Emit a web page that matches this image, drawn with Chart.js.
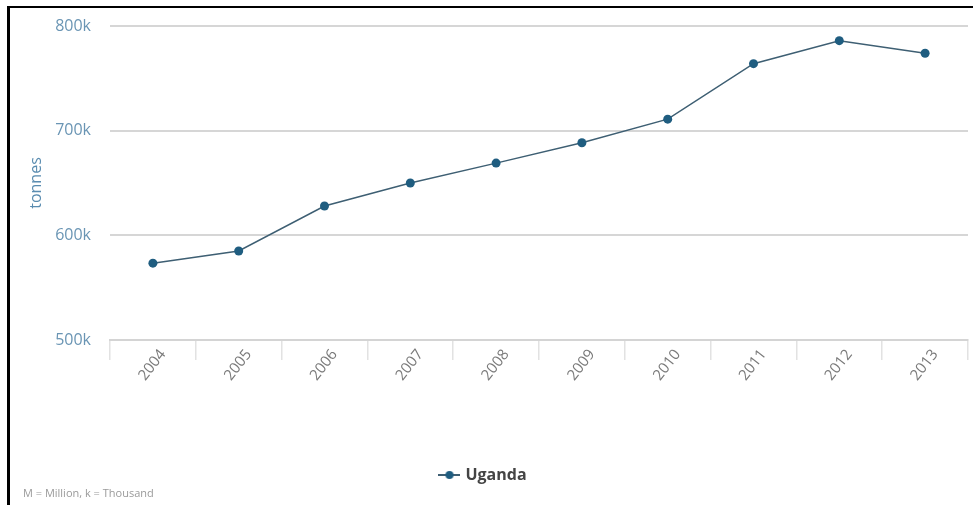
<!DOCTYPE html>
<html>
<head>
<meta charset="utf-8">
<script src="https://cdn.jsdelivr.net/npm/chart.js@4"></script>
<style>
  html, body { margin: 0; padding: 0; background: #fff; }
  #wrap { position: relative; width: 973px; height: 505px; overflow: hidden; }
  #frame { position: absolute; left: 7px; top: 6px; right: -10px; bottom: -10px;
           border-top: 2px solid #000; border-left: 3px solid #000; pointer-events: none; }
  #note { position: absolute; left: 23px; top: 485px; font: 11px "Open Sans", sans-serif; color: #9a9a9a; }
</style>
</head>
<body>
<div id="wrap">
  <canvas id="chart" width="973" height="505"></canvas>
  <div id="frame"></div>
  <div id="note">M = Million, k = Thousand</div>
</div>
<script>
const years = ['2004', '2005', '2006', '2007', '2008', '2009', '2010', '2011', '2012', '2013'];
const uganda = [573400, 585000, 628000, 650000, 669000, 688500, 711000, 764000, 786000, 774000];
const yTicks = [500000, 600000, 700000, 800000];

const lineColor = '#3e5f73';
const dotColor = '#1f5d80';

// legend marker: short line with a dot
function legendMarker() {
  const c = document.createElement('canvas');
  c.width = 22;
  c.height = 10;
  const g = c.getContext('2d');
  g.strokeStyle = lineColor;
  g.lineWidth = 2;
  g.beginPath();
  g.moveTo(0, 5);
  g.lineTo(22, 5);
  g.stroke();
  g.fillStyle = dotColor;
  g.beginPath();
  g.arc(11, 5, 4, 0, Math.PI * 2);
  g.fill();
  return c;
}

const ctx = document.getElementById('chart');
new Chart(ctx, {
  type: 'line',
  data: {
    labels: years,
    datasets: [{
      label: 'Uganda',
      data: uganda,
      borderColor: lineColor,
      backgroundColor: dotColor,
      borderWidth: 1.5,
      pointRadius: 4.5,
      pointBorderWidth: 0,
      pointBackgroundColor: dotColor,
      pointStyle: 'circle',
      tension: 0,
    }],
  },
  options: {
    responsive: false,
    animation: false,
    layout: { padding: { left: 0, top: 26, right: 5, bottom: 12 } },
    scales: {
      x: {
        offset: true,
        grid: { offset: true, drawOnChartArea: false, drawTicks: true, tickLength: 20, color: '#e2e2e2', lineWidth: 1.5 },
        border: { color: '#d4d4d4', width: 2 },
        ticks: {
          color: '#7a7a7a',
          font: { family: 'Open Sans', size: 15 },
          minRotation: 52,
          maxRotation: 52,
          padding: -14,
          labelOffset: 10,
        },
        afterFit(scale) { scale.height = 117; },
      },
      y: {
        min: 500000,
        max: 800000,
        afterBuildTicks(scale) { scale.ticks = yTicks.map((v) => ({ value: v })); },
        grid: { drawTicks: true, tickLength: 17, tickColor: 'rgba(0,0,0,0)', color: '#d6d6d6', lineWidth: 2 },
        border: { display: false },
        ticks: {
          color: '#6a95b4',
          font: { family: 'Open Sans', size: 16 },
          padding: 2,
          callback(value) { return (value / 1000) + 'k'; },
        },
        title: {
          display: true,
          text: 'tonnes',
          color: '#5a8cb0',
          font: { family: 'Open Sans', size: 16 },
          padding: { top: 27, bottom: 0 },
        },
        afterFit(scale) { scale.width = 110; },
      },
    },
    plugins: {
      legend: {
        position: 'bottom',
        labels: {
          usePointStyle: true,
          pointStyle: legendMarker(),
          color: '#444',
          font: { family: 'Open Sans', size: 16, weight: 'bold' },
          padding: 10,
        },
      },
      tooltip: { enabled: false },
    },
  },
});
</script>
</body>
</html>
